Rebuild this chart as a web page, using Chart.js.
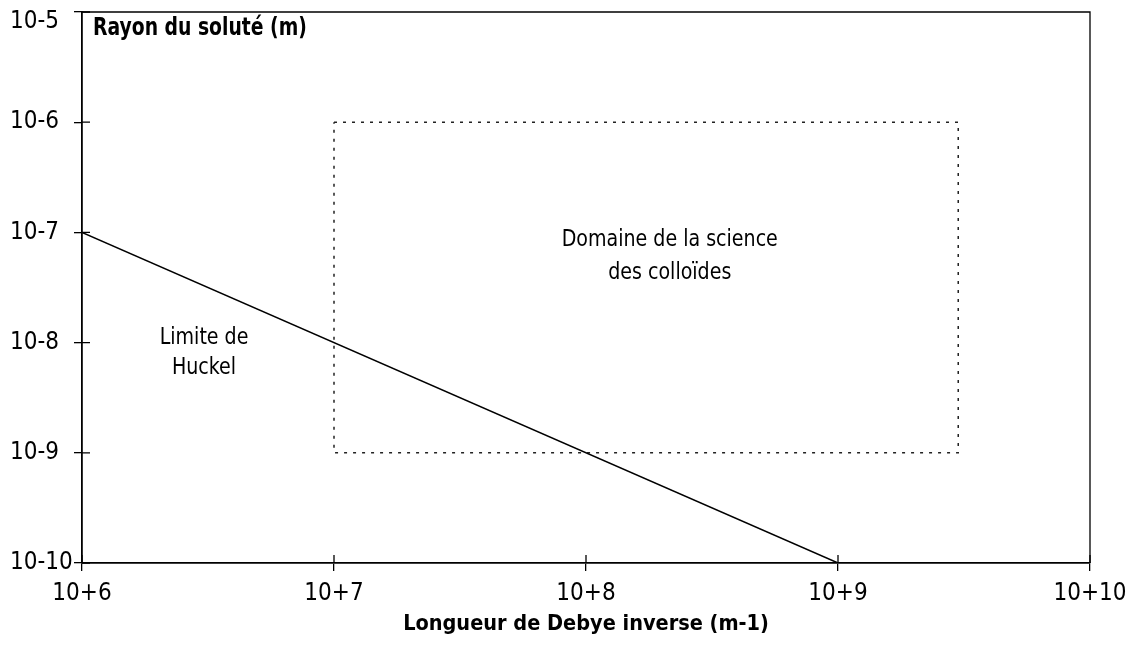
<!DOCTYPE html>
<html>
<head>
<meta charset="utf-8">
<script src="https://cdn.jsdelivr.net/npm/chart.js@4/dist/chart.umd.min.js"></script>
<style>
  body { margin: 0; background: #fff; }
  canvas { display: block; }
</style>
</head>
<body>
<canvas id="myChart" width="1143" height="647"></canvas>
<script>
// valori (scala log-log)
var xTickValues = [1e6, 1e7, 1e8, 1e9, 1e10];
var xTickLabels = ["10+6", "10+7", "10+8", "10+9", "10+10"];
var yTickValues = [1e-10, 1e-9, 1e-8, 1e-7, 1e-6, 1e-5];
var yTickLabels = ["10-10", "10-9", "10-8", "10-7", "10-6", "10-5"];

// limite di Huckel
var huckelX = [1e6, 1e9];
var huckelY = [1e-7, 1e-10];

// dominio della scienza dei colloidi (rettangolo tratteggiato)
var domaineX = [1e7, 3e9, 3e9, 1e7, 1e7];
var domaineY = [1e-6, 1e-6, 1e-9, 1e-9, 1e-6];

// testi dentro il grafico: [testo, x, y]
var etichette = [
  ["Domaine de la science", 2.15e8, 8.46e-8],
  ["des colloïdes", 2.15e8, 4.24e-8],
  ["Limite de", 3.05e6, 1.11e-8],
  ["Huckel", 3.05e6, 5.93e-9]
];
var titoloY = "Rayon du soluté (m)";
var titoloX = "Longueur de Debye inverse (m-1)";

var font = "'Liberation Sans Narrow', 'DejaVu Sans Condensed', 'Arial Narrow', sans-serif";

function punti(xs, ys) {
  var out = [];
  for (var i = 0; i < xs.length; i++) {
    out.push({ x: xs[i], y: ys[i] });
  }
  return out;
}

// testo un po' stretto (il font originale è condensato)
function testoStretto(ctx, testo, x, y, scala) {
  ctx.save();
  ctx.translate(x, y);
  ctx.scale(scala, 1);
  ctx.fillText(testo, 0, 0);
  ctx.restore();
}

// disegno i tick che attraversano l'asse, la cornice e i testi
var extraPlugin = {
  id: "extra",
  afterDraw: function(chart) {
    var ctx = chart.ctx;
    var area = chart.chartArea;
    var sx = chart.scales.x;
    var sy = chart.scales.y;
    ctx.save();
    ctx.strokeStyle = "#000";
    ctx.lineWidth = 1.3;
    ctx.beginPath();
    ctx.moveTo(area.left, area.top);
    ctx.lineTo(area.right, area.top);
    ctx.lineTo(area.right, area.bottom);
    ctx.stroke();
    ctx.beginPath();
    for (var i = 0; i < xTickValues.length; i++) {
      var px = sx.getPixelForValue(xTickValues[i]);
      ctx.moveTo(px, area.bottom);
      ctx.lineTo(px, area.bottom - 8);
    }
    for (var j = 0; j < yTickValues.length; j++) {
      var py = sy.getPixelForValue(yTickValues[j]);
      ctx.moveTo(area.left, py);
      ctx.lineTo(area.left + 8, py);
    }
    ctx.stroke();

    ctx.fillStyle = "#000";
    ctx.textAlign = "center";
    ctx.textBaseline = "middle";
    ctx.font = "23px " + font;
    for (var k = 0; k < etichette.length; k++) {
      testoStretto(ctx, etichette[k][0], sx.getPixelForValue(etichette[k][1]), sy.getPixelForValue(etichette[k][2]), 0.92);
    }
    ctx.textAlign = "left";
    ctx.font = "bold 24px " + font;
    testoStretto(ctx, titoloY, area.left + 11, area.top + 17, 0.87);
    ctx.restore();
  }
};

var canvas = document.getElementById("myChart");
var grafico = new Chart(canvas, {
  type: "line",
  data: {
    datasets: [{
      label: "Limite de Huckel",
      data: punti(huckelX, huckelY),
      borderColor: "#000",
      borderWidth: 1.5,
      pointRadius: 0,
      fill: false
    }, {
      label: "Domaine de la science des colloïdes",
      data: punti(domaineX, domaineY),
      borderColor: "#222",
      borderWidth: 1.5,
      borderDash: [3, 6],
      pointRadius: 0,
      fill: false
    }]
  },
  options: {
    responsive: false,
    animation: false,
    layout: { padding: { top: 12, right: 53, left: 10, bottom: 0 } },
    plugins: {
      legend: { display: false },
      tooltip: { enabled: false }
    },
    scales: {
      x: {
        type: "logarithmic",
        min: 1e6,
        max: 1e10,
        afterBuildTicks: function(scale) {
          scale.ticks = xTickValues.map(function(v) { return { value: v }; });
        },
        afterFit: function(scale) {
          scale.height = 84;
          scale.paddingLeft = 0;
          scale.paddingRight = 0;
        },
        grid: { drawOnChartArea: false, color: "#000", tickLength: 8, lineWidth: 1.3 },
        border: { display: true, color: "#000", width: 1.8 },
        ticks: {
          color: "#000",
          padding: 8,
          maxRotation: 0,
          autoSkip: false,
          font: { family: font, size: 24 },
          callback: function(value, index) { return xTickLabels[index]; }
        },
        title: {
          display: true,
          text: titoloX,
          color: "#000",
          font: { family: font, size: 21.5, weight: "bold" },
          padding: { top: 0, bottom: 10 }
        }
      },
      y: {
        type: "logarithmic",
        min: 1e-10,
        max: 1e-5,
        afterBuildTicks: function(scale) {
          scale.ticks = yTickValues.map(function(v) { return { value: v }; });
        },
        afterFit: function(scale) {
          scale.width = 72;
          scale.paddingTop = 0;
          scale.paddingBottom = 0;
        },
        grid: { drawOnChartArea: false, color: "#000", tickLength: 8, lineWidth: 1.3 },
        border: { display: true, color: "#000", width: 1.8 },
        ticks: {
          color: "#000",
          padding: 4,
          crossAlign: "far",
          autoSkip: false,
          font: function(c) {
            // l'etichetta in alto è spostata verso il basso
            if (c.index === yTickValues.length - 1) {
              return { family: font, size: 24, lineHeight: "20px" };
            }
            return { family: font, size: 24 };
          },
          callback: function(value, index) {
            if (index === yTickValues.length - 1) {
              return ["", yTickLabels[index]];
            }
            return yTickLabels[index];
          }
        }
      }
    }
  },
  plugins: [extraPlugin]
});
</script>
</body>
</html>
